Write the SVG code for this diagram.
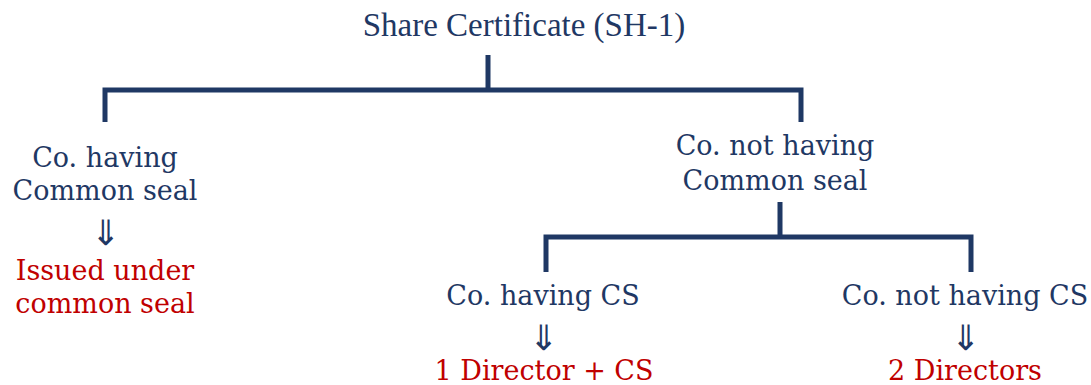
<svg xmlns="http://www.w3.org/2000/svg" width="1091" height="385" viewBox="0 0 1091 385">
<style>
.t{font-family:"DejaVu Serif","Liberation Serif",serif;font-size:27px;fill:#1f3864;text-anchor:middle}
.r{fill:#c00000}
.h{font-family:"Liberation Serif",serif;font-size:33px;fill:#1f3864;text-anchor:middle}
.a{font-family:"Noto Sans CJK JP","DejaVu Sans",sans-serif;font-weight:300;font-size:35px;fill:#1f3864;text-anchor:middle}
.c{fill:none;stroke:#1f3864;stroke-width:5}
</style>
<rect width="1091" height="385" fill="#fff"/>
<g id="connectors">
<path class="c" d="M488 55V90M105 122V90H801V122"/>
<path class="c" d="M780 202V237M546 272V237H971V272"/>
</g>
<g id="root"><text class="h" x="524" y="36">Share Certificate (SH-1)</text></g>
<g id="seal"><text class="t" x="105" y="167">Co. having</text><text class="t" x="105" y="200">Common seal</text><text class="a" x="105" y="245">⇓</text><text class="t r" x="105" y="280">Issued under</text><text class="t r" x="105" y="313">common seal</text></g>
<g id="noseal"><text class="t" x="775" y="155">Co. not having</text><text class="t" x="775" y="190">Common seal</text></g>
<g id="cs"><text class="t" x="543" y="305">Co. having CS</text><text class="a" x="543" y="350">⇓</text><text class="t r" x="544" y="380">1 Director + CS</text></g>
<g id="nocs"><text class="t" x="965" y="305">Co. not having CS</text><text class="a" x="965" y="350">⇓</text><text class="t r" x="965" y="380">2 Directors</text></g>
</svg>
